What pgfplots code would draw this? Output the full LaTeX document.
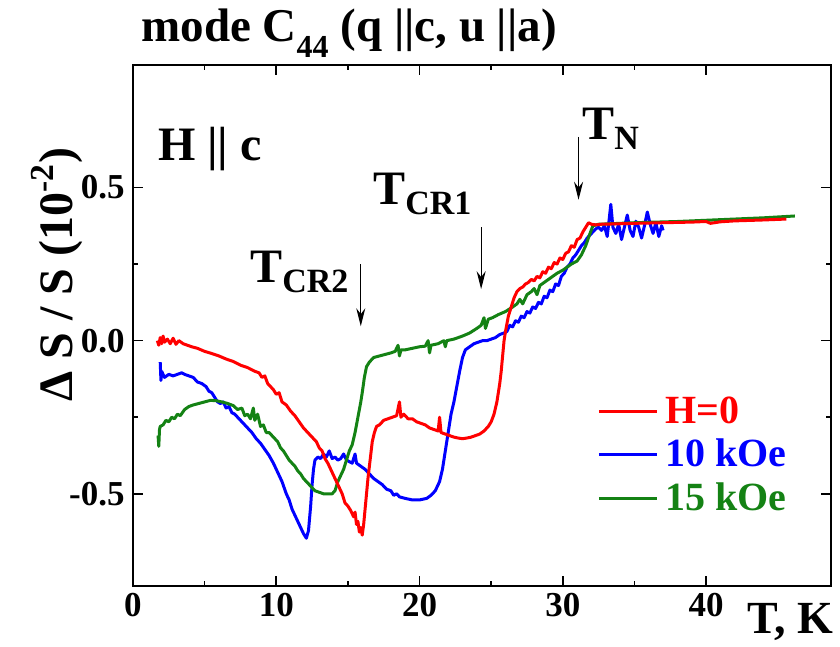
\documentclass[border=0pt]{standalone}
\usepackage{fontspec}
\setmainfont{Liberation Serif}
\usepackage{pgfplots}
\pgfplotsset{compat=1.18}
\usetikzlibrary{arrows.meta}
\definecolor{myred}{RGB}{255,0,0}
\definecolor{myblue}{RGB}{0,0,255}
\definecolor{mygreen}{RGB}{20,130,20}
\begin{document}
\begin{tikzpicture}
\begin{axis}[
 name=ax, at={(0,0)}, anchor=south west,
 scale only axis, width=348.85pt, height=260.35pt,
 xmin=0, xmax=48.7, ymin=-0.8, ymax=0.9,
 xtick={0,10,20,30,40}, minor x tick num=1,
 ytick={-0.5,0,0.5}, yticklabels={-0.5,0.0,0.5}, minor y tick num=1,
 tick pos=both, tick align=inside,
 major tick length=5pt, minor tick length=2.5pt,
 every tick/.style={black, line width=0.8pt},
 axis line style={line width=1pt},
 /pgf/number format/assume math mode=true,
 tick label style={font=\fontsize{17.5}{17.5}\selectfont\bfseries},
 yticklabel style={inner sep=4pt},
 xlabel={T, K},
 xlabel style={at={(rel axis cs:1,0)}, anchor=center, xshift=-20pt, yshift=-18pt, font=\fontsize{23}{23}\selectfont\bfseries},
 ylabel={Δ S / S (10\textsuperscript{-2})},
 ylabel style={at={(rel axis cs:0,0.597)}, anchor=center, yshift=38pt, font=\fontsize{24}{24}\selectfont\bfseries},
 legend style={at={(rel axis cs:0.665,0.37)}, anchor=north west, draw=none, fill=none,
   font=\fontsize{20}{20}\selectfont\bfseries, row sep=3.5pt, inner sep=0pt, nodes={inner sep=1.5pt}},
 legend cell align=left,
 legend image code/.code={\draw[#1] (0pt,0pt) -- (29pt,0pt);},
 /tikz/every odd column/.append style={column sep=2pt},
 clip=false,
]
\addlegendimage{myred, line width=1.5pt}\addlegendentry{\textcolor{myred}{H=0}}
\addlegendimage{myblue, line width=1.5pt}\addlegendentry{\textcolor{myblue}{10 kOe}}
\addlegendimage{mygreen, line width=1.5pt}\addlegendentry{\textcolor{mygreen}{15 kOe}}

% 10 kOe
\addplot[myblue, line width=1.5pt, line join=round, forget plot] coordinates {
(1.9,-0.07)(1.95,-0.13)(2.0,-0.10)(2.2,-0.12)(2.5,-0.11)(2.8,-0.115)(3.1,-0.11)(3.4,-0.105)(3.6,-0.11)(3.9,-0.115)(4.2,-0.12)(4.5,-0.135)(4.8,-0.14)(5.1,-0.15)(5.3,-0.165)(5.5,-0.17)(5.7,-0.185)(5.9,-0.2)(6.1,-0.205)(6.3,-0.2)(6.5,-0.22)(6.7,-0.215)(6.9,-0.235)(7.1,-0.24)(7.4,-0.255)(7.7,-0.27)(8.0,-0.285)(8.3,-0.30)(8.6,-0.32)(8.9,-0.335)(9.2,-0.355)(9.5,-0.375)(9.8,-0.40)(10.1,-0.43)(10.4,-0.46)(10.7,-0.50)(10.9,-0.52)(11.1,-0.55)(11.3,-0.57)(11.5,-0.59)(11.7,-0.61)(11.9,-0.63)(12.1,-0.645)(12.25,-0.62)(12.4,-0.54)(12.5,-0.47)(12.6,-0.42)(12.7,-0.39)(12.9,-0.38)(13.1,-0.385)(13.3,-0.37)(13.5,-0.38)(13.7,-0.36)(13.9,-0.385)(14.1,-0.38)(14.3,-0.39)(14.5,-0.385)(14.7,-0.37)(14.9,-0.39)(15.1,-0.395)(15.3,-0.40)(15.5,-0.37)(15.6,-0.40)(15.9,-0.41)(16.2,-0.42)(16.5,-0.435)(16.8,-0.45)(17.1,-0.46)(17.4,-0.47)(17.7,-0.485)(18.0,-0.49)(18.2,-0.505)(18.4,-0.50)(18.6,-0.51)(19.0,-0.515)(19.5,-0.52)(20.0,-0.52)(20.5,-0.515)(20.8,-0.505)(21.1,-0.49)(21.4,-0.46)(21.6,-0.42)(21.8,-0.36)(22.0,-0.30)(22.2,-0.24)(22.4,-0.20)(22.6,-0.15)(22.8,-0.10)(23.0,-0.055)(23.2,-0.03)(23.5,-0.02)(23.8,-0.01)(24.1,-0.005)(24.4,0.0)(24.7,0.0)(25.0,0.005)(25.3,0.01)(25.6,0.02)(25.9,0.025)(26.1,0.03)(26.3,0.05)(26.5,0.045)(26.7,0.065)(26.9,0.06)(27.1,0.08)(27.3,0.075)(27.5,0.095)(27.7,0.09)(27.9,0.11)(28.1,0.105)(28.3,0.125)(28.5,0.12)(28.7,0.145)(28.9,0.14)(29.1,0.165)(29.3,0.16)(29.5,0.185)(29.7,0.18)(29.9,0.21)(30.1,0.22)(30.3,0.24)(30.5,0.25)(30.7,0.27)(30.9,0.28)(31.1,0.295)(31.3,0.31)(31.5,0.32)(31.7,0.335)(31.9,0.345)(32.1,0.355)(32.3,0.365)(32.5,0.37)(32.7,0.36)(32.9,0.375)(33.1,0.34)(33.2,0.38)(33.35,0.445)(33.5,0.37)(33.7,0.35)(33.9,0.38)(34.1,0.33)(34.3,0.37)(34.5,0.41)(34.7,0.36)(34.9,0.34)(35.1,0.39)(35.3,0.37)(35.5,0.335)(35.7,0.375)(35.9,0.42)(36.1,0.38)(36.3,0.35)(36.5,0.385)(36.7,0.34)(36.9,0.375)(37.0,0.36)
};
% 15 kOe
\addplot[mygreen, line width=1.5pt, line join=round, forget plot] coordinates {
(1.75,-0.31)(1.8,-0.345)(1.85,-0.29)(1.9,-0.28)(2.1,-0.275)(2.3,-0.26)(2.5,-0.265)(2.7,-0.25)(2.9,-0.255)(3.1,-0.24)(3.3,-0.245)(3.6,-0.225)(3.9,-0.215)(4.2,-0.21)(4.6,-0.205)(5.0,-0.2)(5.4,-0.195)(5.8,-0.196)(6.2,-0.2)(6.6,-0.205)(7.0,-0.212)(7.3,-0.225)(7.6,-0.22)(7.8,-0.245)(8.0,-0.24)(8.2,-0.255)(8.4,-0.22)(8.5,-0.26)(8.7,-0.24)(8.9,-0.28)(9.1,-0.275)(9.3,-0.3)(9.5,-0.3)(9.7,-0.31)(9.9,-0.32)(10.1,-0.33)(10.3,-0.35)(10.5,-0.36)(10.7,-0.375)(10.9,-0.39)(11.1,-0.40)(11.3,-0.41)(11.5,-0.425)(11.7,-0.435)(11.9,-0.45)(12.1,-0.46)(12.4,-0.475)(12.7,-0.49)(13.0,-0.495)(13.3,-0.5)(13.6,-0.5)(13.9,-0.5)(14.1,-0.49)(14.3,-0.46)(14.5,-0.44)(14.7,-0.42)(14.9,-0.39)(15.1,-0.36)(15.3,-0.34)(15.5,-0.30)(15.7,-0.25)(15.9,-0.20)(16.0,-0.17)(16.15,-0.12)(16.3,-0.085)(16.5,-0.07)(16.8,-0.055)(17.2,-0.05)(17.6,-0.045)(18.0,-0.04)(18.3,-0.035)(18.5,-0.015)(18.6,-0.05)(18.7,-0.03)(19.0,-0.03)(19.5,-0.025)(20.0,-0.02)(20.4,-0.018)(20.6,0.0)(20.7,-0.04)(20.8,-0.015)(21.3,-0.01)(21.7,0.0)(21.8,-0.02)(21.9,0.0)(22.4,0.005)(23.0,0.015)(23.5,0.025)(24.0,0.04)(24.3,0.05)(24.5,0.075)(24.6,0.04)(24.8,0.07)(25.1,0.075)(25.5,0.085)(26.0,0.095)(26.5,0.11)(26.8,0.12)(27.0,0.135)(27.2,0.12)(27.5,0.15)(27.8,0.16)(28.0,0.17)(28.2,0.15)(28.4,0.18)(28.7,0.19)(29.0,0.2)(29.3,0.21)(29.6,0.22)(30.0,0.23)(30.3,0.24)(30.6,0.25)(31.0,0.26)(31.3,0.28)(31.6,0.31)(31.9,0.35)(32.1,0.375)(32.5,0.38)(33.5,0.382)(35,0.385)(38,0.389)(40,0.393)(42,0.397)(44,0.401)(46.2,0.407)
};
% H=0
\addplot[myred, line width=1.5pt, line join=round, forget plot] coordinates {
(1.7,0.00)(1.8,-0.015)(1.9,0.01)(2.0,-0.01)(2.1,0.015)(2.2,-0.005)(2.4,0.005)(2.6,-0.01)(2.8,0.008)(3.0,-0.012)(3.2,0.0)(3.5,-0.01)(3.8,-0.015)(4.1,-0.02)(4.5,-0.025)(5.0,-0.035)(5.5,-0.042)(6.0,-0.05)(6.5,-0.06)(7.0,-0.068)(7.5,-0.08)(8.0,-0.088)(8.5,-0.10)(8.8,-0.105)(9.0,-0.12)(9.2,-0.115)(9.4,-0.14)(9.6,-0.15)(9.8,-0.16)(10.0,-0.175)(10.2,-0.17)(10.4,-0.2)(10.7,-0.21)(11.0,-0.23)(11.3,-0.245)(11.6,-0.265)(11.9,-0.285)(12.2,-0.3)(12.5,-0.315)(12.8,-0.33)(13.0,-0.35)(13.2,-0.36)(13.4,-0.385)(13.6,-0.40)(13.8,-0.42)(14.0,-0.44)(14.2,-0.46)(14.4,-0.48)(14.6,-0.50)(14.8,-0.53)(15.0,-0.54)(15.2,-0.555)(15.4,-0.575)(15.5,-0.56)(15.6,-0.6)(15.7,-0.59)(15.8,-0.625)(15.9,-0.61)(16.0,-0.635)(16.1,-0.6)(16.2,-0.55)(16.3,-0.5)(16.4,-0.45)(16.5,-0.41)(16.6,-0.37)(16.7,-0.33)(16.85,-0.30)(17.0,-0.28)(17.2,-0.275)(17.5,-0.26)(17.8,-0.255)(18.1,-0.25)(18.4,-0.245)(18.6,-0.20)(18.7,-0.25)(18.9,-0.24)(19.2,-0.255)(19.5,-0.255)(19.8,-0.265)(20.1,-0.27)(20.4,-0.275)(20.7,-0.285)(21.0,-0.29)(21.3,-0.295)(21.4,-0.25)(21.5,-0.30)(21.8,-0.305)(22.1,-0.31)(22.4,-0.315)(22.7,-0.318)(23.0,-0.32)(23.3,-0.318)(23.6,-0.315)(23.9,-0.31)(24.2,-0.305)(24.5,-0.295)(24.8,-0.28)(25.0,-0.265)(25.2,-0.24)(25.4,-0.2)(25.5,-0.17)(25.6,-0.14)(25.7,-0.1)(25.8,-0.05)(25.9,0.0)(26.0,0.03)(26.2,0.08)(26.4,0.11)(26.6,0.14)(26.8,0.16)(27.0,0.17)(27.2,0.175)(27.4,0.185)(27.6,0.19)(27.8,0.2)(28.0,0.195)(28.2,0.21)(28.4,0.205)(28.6,0.225)(28.8,0.22)(29.0,0.24)(29.2,0.235)(29.4,0.255)(29.6,0.25)(29.8,0.27)(30.0,0.265)(30.2,0.285)(30.4,0.29)(30.6,0.31)(30.8,0.305)(31.0,0.33)(31.2,0.335)(31.4,0.355)(31.6,0.37)(31.8,0.385)(32.0,0.38)(32.3,0.378)(32.7,0.38)(33.5,0.381)(35,0.383)(37,0.385)(39,0.387)(40,0.389)(40.3,0.383)(41,0.388)(42,0.391)(44,0.394)(45.6,0.397)
};

\node[font=\fontsize{24}{24}\selectfont\bfseries] at (axis cs:5.37,0.625) {H || c};
\node[anchor=base west, inner sep=0pt, font=\fontsize{24}{24}\selectfont\bfseries] at (axis cs:8.16,0.19) {T\raisebox{-5pt}{\fontsize{17}{17}\selectfont CR2}};
\node[anchor=base west, inner sep=0pt, font=\fontsize{24}{24}\selectfont\bfseries] at (axis cs:16.75,0.446) {T\raisebox{-5pt}{\fontsize{17}{17}\selectfont CR1}};
\node[anchor=base west, inner sep=0pt, font=\fontsize{24}{24}\selectfont\bfseries] at (axis cs:31.33,0.658) {T\raisebox{-5pt}{\fontsize{17}{17}\selectfont N}};
\draw[-{Stealth[length=9pt,width=4.5pt]}, line width=0.6pt] (axis cs:15.9,0.25) -- (axis cs:15.9,0.047);
\draw[-{Stealth[length=9pt,width=4.5pt]}, line width=0.6pt] (axis cs:24.3,0.37) -- (axis cs:24.3,0.168);
\draw[-{Stealth[length=9pt,width=4.5pt]}, line width=0.6pt] (axis cs:31.1,0.665) -- (axis cs:31.1,0.46);
\end{axis}
\node[anchor=base west, inner sep=0pt, font=\fontsize{23.5}{23.5}\selectfont\bfseries] at ([xshift=4pt, yshift=11.5pt]ax.north west) {mode C\raisebox{-8pt}{\fontsize{16}{16}\selectfont 44} (q ||c, u ||a)};
\pgfresetboundingbox
\path[use as bounding box] (-66.5pt,-30.65pt) rectangle (353.5pt,292.85pt);
\end{tikzpicture}
\end{document}
